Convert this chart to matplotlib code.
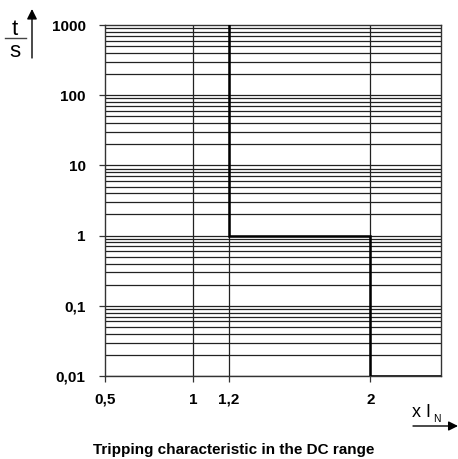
import matplotlib
matplotlib.use("Agg")
import matplotlib.pyplot as plt
import numpy as np

x_ticks = [0.5, 1.0, 1.2, 2.0]
x_labels = ["0,5", "1", "1,2", "2"]
y_ticks = [0.01, 0.1, 1, 10, 100, 1000]
y_labels = ["0,01", "0,1", "1", "10", "100", "1000"]
trip_x = [1.2, 1.2, 2.0, 2.0, 2.4]
trip_y = [1000, 1, 1, 0.01, 0.01]
x_min, x_max = 0.5, 2.4
y_min, y_max = 0.01, 1000

plt.rcParams['font.family'] = ['Liberation Sans', 'DejaVu Sans']

fig = plt.figure(figsize=(4.58, 4.59), dpi=100)
ax = fig.add_axes([105/458, 83/459, 336/458, 351/459])
ax.set_yscale('log')
ax.set_xlim(x_min, x_max)
ax.set_ylim(y_min, y_max)

# horizontal grid lines at every log step
for k in range(-2, 3):
    for m in range(1, 10):
        v = m * 10.0**k
        if y_min <= v <= y_max:
            ax.axhline(v, color='#222222', lw=0.9, zorder=1)
for xv in x_ticks[1:]:
    ax.axvline(xv, color='#222222', lw=0.9, zorder=1)

ax.plot(trip_x, trip_y, color='black', lw=1.8, zorder=3, solid_joinstyle='miter')

ax.set_xticks(x_ticks)
ax.set_xticklabels(x_labels, fontweight='bold', fontsize=11)
ax.set_yticks(y_ticks)
ax.set_yticklabels(y_labels, fontweight='bold', fontsize=11)
ax.yaxis.set_minor_locator(matplotlib.ticker.NullLocator())
ax.tick_params(axis='both', direction='out', length=4, width=0.9, color='#333333')
ax.tick_params(axis='y', pad=10)
ax.tick_params(axis='x', pad=8)
for s in ax.spines.values():
    s.set_linewidth(1.0)
    s.set_color('#333333')

# axis labels
fig.text(15/458, 1 - 35/459, "t", fontsize=16, ha='center', va='baseline')
fig.text(15/458, 1 - 57/459, "s", fontsize=16, ha='center', va='baseline')
fig.add_artist(plt.Line2D([5/458, 26/458], [1 - 38/459, 1 - 38/459], color='#444444', lw=1.0))
fig.add_artist(matplotlib.patches.FancyArrowPatch((32/458, 1 - 58/459), (32/458, 1 - 9/459),
               transform=fig.transFigure, arrowstyle='-|>', mutation_scale=15, color='black',
               lw=1.0, shrinkA=0, shrinkB=0))

fig.text(412/458, 1 - 417/459, "x I", fontsize=13, ha='left', va='baseline')
fig.text(433/458, 1 - 422/459, "N", fontsize=7.5, ha='left', va='baseline')
fig.add_artist(matplotlib.patches.FancyArrowPatch((413/458, 1 - 426/459), (458/458, 1 - 426/459),
               transform=fig.transFigure, arrowstyle='-|>', mutation_scale=14, color='black',
               lw=1.0, shrinkA=0, shrinkB=0))

fig.text(234/458, 1 - 450/459, "Tripping characteristic in the DC range",
         fontsize=11, fontweight='bold', ha='center', va='center')

fig.savefig("out.png", dpi=100)
